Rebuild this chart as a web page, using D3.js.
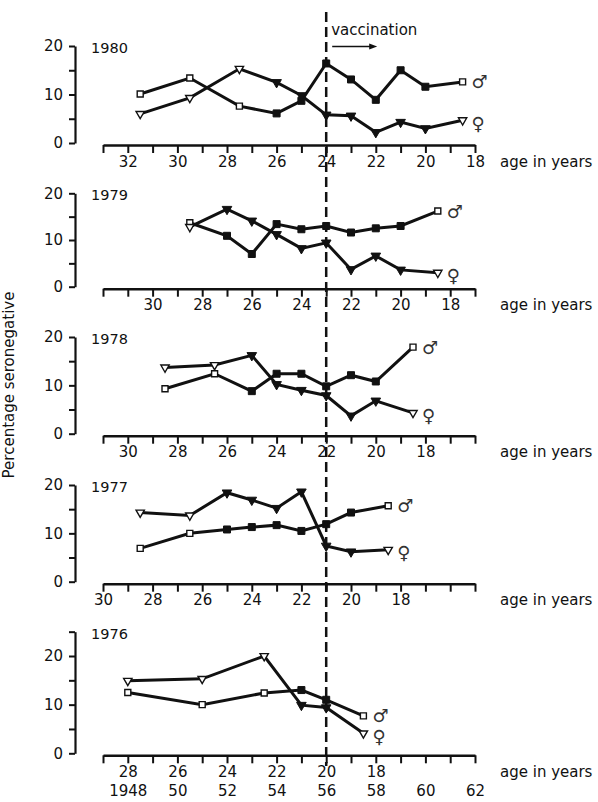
<!DOCTYPE html>
<html>
<head>
<meta charset="utf-8">
<script src="https://cdn.jsdelivr.net/npm/d3@7"></script>
<style>
  body { margin: 0; background: #fff; }
  svg { display: block; font-family: "DejaVu Sans", sans-serif; }
  .axis path, .axis line { stroke: #111; }
  .axis text { fill: #111; font-size: 15px; font-family: "DejaVu Sans", sans-serif; }
</style>
</head>
<body>
<svg id="chart" width="598" height="802"></svg>
<script>
// one panel per survey year
var years = [1980, 1979, 1978, 1977, 1976];

// age of each group (bands of 2-3 years sit at their midpoint), % seronegative
var ages1980 = [31.5, 29.5, 27.5, 26, 25, 24, 23, 22, 21, 20, 18.5];
var male1980 = [10.1, 13.4, 7.6, 6.1, 8.7, 16.4, 13.1, 8.9, 15.0, 11.6, 12.6];
var female1980 = [6.0, 9.3, 15.3, 12.5, 9.8, 5.8, 5.6, 2.2, 4.3, 3.0, 4.7];

var ages1979 = [28.5, 27, 26, 25, 24, 23, 22, 21, 20, 18.5];
var male1979 = [13.7, 10.9, 7.0, 13.4, 12.3, 13.0, 11.6, 12.5, 13.0, 16.2];
var female1979 = [12.8, 16.6, 14.1, 11.2, 8.2, 9.4, 3.7, 6.6, 3.6, 3.0];

var ages1978 = [28.5, 26.5, 25, 24, 23, 22, 21, 20, 18.5];
var male1978 = [9.3, 12.4, 8.8, 12.4, 12.4, 9.8, 12.1, 10.8, 17.9];
var female1978 = [13.7, 14.2, 16.2, 10.2, 9.0, 7.9, 3.7, 6.8, 4.3];

var ages1977 = [28.5, 26.5, 25, 24, 23, 22, 21, 20, 18.5];
var male1977 = [6.9, 10.0, 10.8, 11.3, 11.7, 10.5, 11.9, 14.3, 15.7];
var female1977 = [14.3, 13.7, 18.4, 16.9, 15.2, 18.6, 7.4, 6.2, 6.6];

var ages1976 = [28, 25, 22.5, 21, 20, 18.5];
var male1976 = [12.5, 10.0, 12.4, 13.0, 11.0, 7.7];
var female1976 = [14.9, 15.3, 20.0, 9.9, 9.4, 4.1];

// labelled ages under each axis
var tickAges1980 = [32, 30, 28, 26, 24, 22, 20, 18];
var tickAges1979 = [30, 28, 26, 24, 22, 20, 18];
var tickAges1978 = [30, 28, 26, 24, 22, 20, 18];
var tickAges1977 = [30, 28, 26, 24, 22, 20, 18];
var tickAges1976 = [28, 26, 24, 22, 20, 18];

// year of birth row under the 1976 axis
var birthYears = [1948, 1950, 1952, 1954, 1956, 1958, 1960, 1962];
var birthYearLabels = ["1948", "50", "52", "54", "56", "58", "60", "62"];
var birthYearRange = [1947, 1962];
var vaccinationCohort = 1956;

var percentTicks = [0, 5, 10, 15, 20];
var percentTicks1976 = [0, 5, 10, 15, 20, 25];
var percentLabels = [0, 10, 20];

var panels = [
  { ages: ages1980, male: male1980, female: female1980, tickAges: tickAges1980, yTicks: percentTicks },
  { ages: ages1979, male: male1979, female: female1979, tickAges: tickAges1979, yTicks: percentTicks },
  { ages: ages1978, male: male1978, female: female1978, tickAges: tickAges1978, yTicks: percentTicks },
  { ages: ages1977, male: male1977, female: female1977, tickAges: tickAges1977, yTicks: percentTicks },
  { ages: ages1976, male: male1976, female: female1976, tickAges: tickAges1976, yTicks: percentTicks1976 }
];
panels.forEach(function (p, k) { p.year = years[k]; });

// pixel rows of 0% and 20% in each panel
var rows = [[143, 46], [286.7, 193.3], [433.7, 337], [581.7, 485], [753.3, 656]];

var svg = d3.select("#chart");
var x = d3.scaleLinear().domain(birthYearRange).range([103, 475]);
var axisLeftX = 75;

// grouped age bands (neighbours more than a year away) get open markers
function isBand(ages, i) {
  var gaps = [];
  if (i > 0) gaps.push(Math.abs(ages[i - 1] - ages[i]));
  if (i < ages.length - 1) gaps.push(Math.abs(ages[i + 1] - ages[i]));
  return d3.min(gaps) > 1;
}

panels.forEach(function (p, k) {
  var y0 = rows[k][0], unit = (rows[k][0] - rows[k][1]) / 20;
  var top = d3.max(p.yTicks);
  var y = d3.scaleLinear().domain([0, top]).range([y0, y0 - unit * top]);
  var axisY = y0 + 2;
  var g = svg.append("g");

  g.append("g").attr("class", "axis")
    .attr("transform", "translate(" + axisLeftX + ",0)")
    .call(d3.axisLeft(y).tickValues(p.yTicks).tickSize(6).tickSizeOuter(0).tickPadding(6)
      .tickFormat(function (d) { return percentLabels.indexOf(d) >= 0 ? d : ""; }))
    .call(function (a) {
      a.select(".domain").attr("stroke-width", 2.2);
      a.selectAll(".tick line").attr("stroke-width", 2);
    });

  g.append("g").attr("class", "axis")
    .attr("transform", "translate(0," + axisY + ")")
    .call(d3.axisBottom(x).tickValues(d3.range(birthYearRange[0], birthYearRange[1] + 1))
      .tickSize(8).tickSizeOuter(0).tickPadding(3)
      .tickFormat(function (b) { var a = p.year - b; return p.tickAges.indexOf(a) >= 0 ? a : ""; }))
    .call(function (a) {
      a.select(".domain").attr("stroke-width", 2.6);
      a.selectAll(".tick line").attr("stroke-width", 2);
    });

  g.append("text").attr("x", 500).attr("y", axisY + 11).attr("dy", "0.71em")
    .attr("font-size", 15).attr("fill", "#111").text("age in years");

  if (p.year === 1976) {
    g.append("g").attr("class", "axis")
      .attr("transform", "translate(0," + axisY + ")")
      .call(d3.axisBottom(x).tickValues(birthYears).tickSize(0).tickPadding(30)
        .tickFormat(function (b, i) { return birthYearLabels[i]; }))
      .call(function (a) { a.select(".domain").remove(); });
  }

  g.append("text").attr("x", 91).attr("y", y(top) + 7)
    .attr("font-size", 14.5).attr("fill", "#111").text(p.year);

  var line = d3.line()
    .x(function (d) { return x(p.year - d.age); })
    .y(function (d) { return y(d.v); });

  var series = [
    { key: "male", shape: d3.symbolSquare, sign: "\u2642", vals: p.male },
    { key: "female", shape: d3.symbolTriangle, sign: "\u2640", vals: p.female }
  ];

  series.forEach(function (s) {
    var pts = p.ages.map(function (a, i) {
      return { age: a, v: s.vals[i], open: isBand(p.ages, i) };
    });
    g.append("path").datum(pts)
      .attr("fill", "none").attr("stroke", "#111").attr("stroke-width", 3)
      .attr("stroke-linejoin", "miter").attr("d", line);
  });

  series.forEach(function (s) {
    var pts = p.ages.map(function (a, i) {
      return { age: a, v: s.vals[i], open: isBand(p.ages, i) };
    });
    var tri = s.key === "female";
    g.selectAll("path." + s.key).data(pts).enter().append("path")
      .attr("class", s.key)
      .attr("d", function (d) {
        return d3.symbol().type(s.shape).size(d.open ? (tri ? 30 : 36) : (tri ? 40 : 49))();
      })
      .attr("transform", function (d) {
        return "translate(" + x(p.year - d.age) + "," + y(d.v) + ")" + (tri ? " rotate(180)" : "");
      })
      .attr("fill", function (d) { return d.open ? "#fff" : "#111"; })
      .attr("stroke", "#111").attr("stroke-width", function (d) { return d.open ? 1.4 : 1; });

    var last = pts[pts.length - 1];
    g.append("text")
      .attr("x", x(p.year - last.age) + 9)
      .attr("y", y(last.v) + (tri ? 3 : 0))
      .attr("dominant-baseline", "central")
      .attr("font-size", 18).attr("fill", "#333")
      .text(s.sign);
  });
});

// vaccinated cohorts start with the 1956 birth year
var vx = x(vaccinationCohort);
svg.append("line")
  .attr("x1", vx).attr("x2", vx).attr("y1", 12).attr("y2", 766)
  .attr("stroke", "#111").attr("stroke-width", 2.5).attr("stroke-dasharray", "10,5");

svg.append("text").attr("x", vx + 5).attr("y", 35)
  .attr("font-size", 15).attr("fill", "#111").text("vaccination");
svg.append("line")
  .attr("x1", vx + 6).attr("x2", vx + 45).attr("y1", 46.5).attr("y2", 46.5)
  .attr("stroke", "#111").attr("stroke-width", 1.4);
svg.append("path")
  .attr("d", "M" + (vx + 51) + ",46.5L" + (vx + 43) + ",43.5L" + (vx + 43) + ",49.5Z")
  .attr("fill", "#111");

svg.append("text")
  .attr("transform", "translate(14,385) rotate(-90)")
  .attr("text-anchor", "middle")
  .attr("font-size", 15).attr("fill", "#111")
  .text("Percentage seronegative");
</script>
</body>
</html>
